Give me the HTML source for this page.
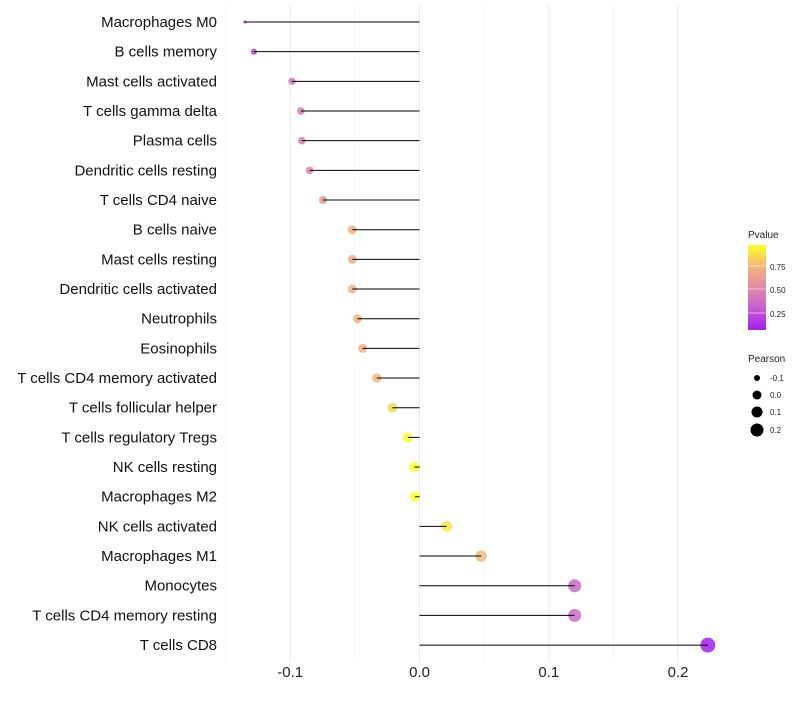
<!DOCTYPE html>
<html><head><meta charset="utf-8"><style>
body{margin:0;background:#fff;font-family:"Liberation Sans",sans-serif;}
</style></head><body>
<svg id="chart" width="800" height="700" xmlns="http://www.w3.org/2000/svg">
<defs><linearGradient id="pg" x1="0" y1="1" x2="0" y2="0">
<stop offset="0" stop-color="#a51ef0"/><stop offset="0.31" stop-color="#cc6ac8"/><stop offset="0.53" stop-color="#e290a0"/><stop offset="0.76" stop-color="#f2b878"/><stop offset="1" stop-color="#ffff22"/></linearGradient></defs>
<g id="grid"></g><g id="pts"></g><g id="marks"></g><g id="labels"></g>
<g font-size="10" fill="#222">
<text x="748" y="238">Pvalue</text>
<rect x="748" y="245" width="18" height="85" fill="url(#pg)"/>
<line x1="748" y1="266" x2="766" y2="266" stroke="#fff" stroke-opacity=".5"/><line x1="748" y1="289" x2="766" y2="289" stroke="#fff" stroke-opacity=".5"/><line x1="748" y1="313" x2="766" y2="313" stroke="#fff" stroke-opacity=".5"/>
<text x="770" y="270" font-size="8">0.75</text><text x="770" y="293" font-size="8">0.50</text><text x="770" y="317" font-size="8">0.25</text>
<text x="748" y="362">Pearson</text>
<circle cx="757" cy="378" r="3" fill="#000"/><text x="770" y="381" font-size="8">-0.1</text>
<circle cx="757" cy="395" r="4.5" fill="#000"/><text x="770" y="398" font-size="8">0.0</text>
<circle cx="757" cy="412" r="5.5" fill="#000"/><text x="770" y="415" font-size="8">0.1</text>
<circle cx="757" cy="430" r="6.5" fill="#000"/><text x="770" y="433" font-size="8">0.2</text>
</g>
</svg>
<script>
const cells=["Macrophages M0","B cells memory","Mast cells activated","T cells gamma delta","Plasma cells","Dendritic cells resting","T cells CD4 naive","B cells naive","Mast cells resting","Dendritic cells activated","Neutrophils","Eosinophils","T cells CD4 memory activated","T cells follicular helper","T cells regulatory  Tregs","NK cells resting","Macrophages M2","NK cells activated","Macrophages M1","Monocytes","T cells CD4 memory resting","T cells CD8"];
const pearson=[-0.135,-0.128,-0.0986,-0.0917,-0.091,-0.085,-0.0746,-0.052,-0.052,-0.052,-0.048,-0.044,-0.033,-0.021,-0.009,-0.004,-0.0035,0.021,0.0476,0.120,0.120,0.223];
const pvalue=[0.15,0.2,0.4,0.45,0.45,0.5,0.6,0.7,0.7,0.7,0.72,0.72,0.75,0.85,0.95,0.98,0.98,0.9,0.75,0.35,0.35,0.05];
const xticks=[-0.1,0.0,0.1,0.2];
const xminor=[-0.15,-0.05,0.05,0.15];
const NS="http://www.w3.org/2000/svg";
const X=v=>419.5+v*1293;
const Y=i=>22+i*29.67;
function mk(t,a,p){const e=document.createElementNS(NS,t);for(const k in a)e.setAttribute(k,a[k]);p.appendChild(e);return e;}
const stops=[[0.07,[165,30,240]],[0.35,[204,106,200]],[0.55,[226,144,160]],[0.75,[242,184,120]],[0.97,[255,255,34]]];
function col(p){if(p<=stops[0][0])return`rgb(${stops[0][1]})`;for(let i=1;i<stops.length;i++){if(p<=stops[i][0]){const a=stops[i-1],b=stops[i],t=(p-a[0])/(b[0]-a[0]);return`rgb(${a[1].map((c,j)=>Math.round(c+(b[1][j]-c)*t))})`;}}return`rgb(${stops[4][1]})`;}
const mn=Math.min(...pearson),mx=Math.max(...pearson);
const rad=v=>Math.sqrt(2.6+(v-mn)/(mx-mn)*(50-2.6)+ (v>mn?6:0));
const g=document.getElementById('grid'),m=document.getElementById('marks'),ps=document.getElementById('pts'),lb=document.getElementById('labels');
xminor.forEach(v=>{const l=mk('line',{x1:X(v),x2:X(v),y1:5,y2:662,stroke:'#f2f2f2','stroke-width':0.6},g);

});
xticks.forEach(v=>{const l=mk('line',{x1:X(v),x2:X(v),y1:5,y2:662,stroke:'#ebebeb','stroke-width':1.1},g);


const t=mk('text',{x:X(v),y:677,'text-anchor':'middle','font-size':15,fill:'#222'},lb);t.textContent=v===0?'0.0':String(v);

});
cells.forEach((c,i)=>{const y=Y(i);
const p=mk('circle',{cx:X(pearson[i]),cy:y,r:rad(pearson[i]),fill:col(pvalue[i]),'fill-opacity':0.85},ps);


const l=mk('line',{x1:X(0),x2:X(pearson[i]),y1:y,y2:y,stroke:'#000','stroke-width':1},m);


const t=mk('text',{x:217,y:y+5,'text-anchor':'end','font-size':15,fill:'#111'},lb);t.textContent=c;

});
</script>
</body></html>
